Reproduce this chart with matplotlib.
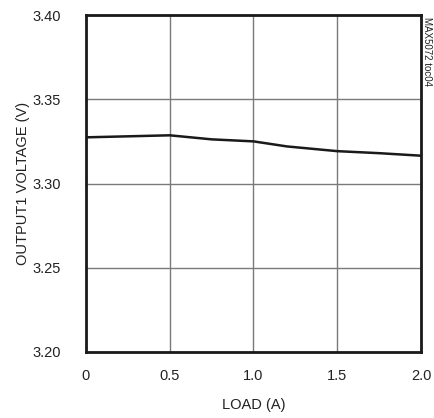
import matplotlib
matplotlib.use("Agg")
import matplotlib.pyplot as plt

plt.rcParams['font.family'] = ['Liberation Sans Narrow', 'Liberation Sans', 'DejaVu Sans']

# data
load_a = [0.0, 0.25, 0.5, 0.75, 1.0, 1.2, 1.5, 1.75, 2.0]
vout = [3.3274, 3.3280, 3.3286, 3.3262, 3.3250, 3.3220, 3.3192, 3.3180, 3.3165]

x_ticks = [0, 0.5, 1.0, 1.5, 2.0]
x_labels = ["0", "0.5", "1.0", "1.5", "2.0"]
y_ticks = [3.20, 3.25, 3.30, 3.35, 3.40]
y_labels = ["3.20", "3.25", "3.30", "3.35", "3.40"]

fig = plt.figure(figsize=(4.35, 4.18), dpi=100)
ax = fig.add_axes([0.1977, 0.1579, 0.7701, 0.8062])

ax.plot(load_a, vout, color="#1a1a1a", lw=1.8, solid_capstyle="butt")

ax.set_xlim(0, 2.0)
ax.set_ylim(3.20, 3.40)
ax.set_xticks(x_ticks)
ax.set_xticklabels(x_labels)
ax.set_yticks(y_ticks)
ax.set_yticklabels(y_labels)
ax.tick_params(length=0, labelsize=10.5, colors="#222222")
ax.tick_params(axis="y", pad=18)
ax.tick_params(axis="x", pad=12)

ax.grid(True, color="#7a7a7a", lw=1.0)
ax.set_axisbelow(True)
for s in ax.spines.values():
    s.set_linewidth(2.0)
    s.set_color("#1a1a1a")

ax.set_xlabel("LOAD (A)", fontsize=10.5, color="#222222", labelpad=11)
ax.set_ylabel("OUTPUT1 VOLTAGE (V)", fontsize=10.5, color="#222222", labelpad=2)

fig.text(0.981, 0.96, "MAX5072 toc04", rotation=270, fontsize=7,
         ha="center", va="top", color="#222222")

fig.savefig("out.png", dpi=100, facecolor="white")
